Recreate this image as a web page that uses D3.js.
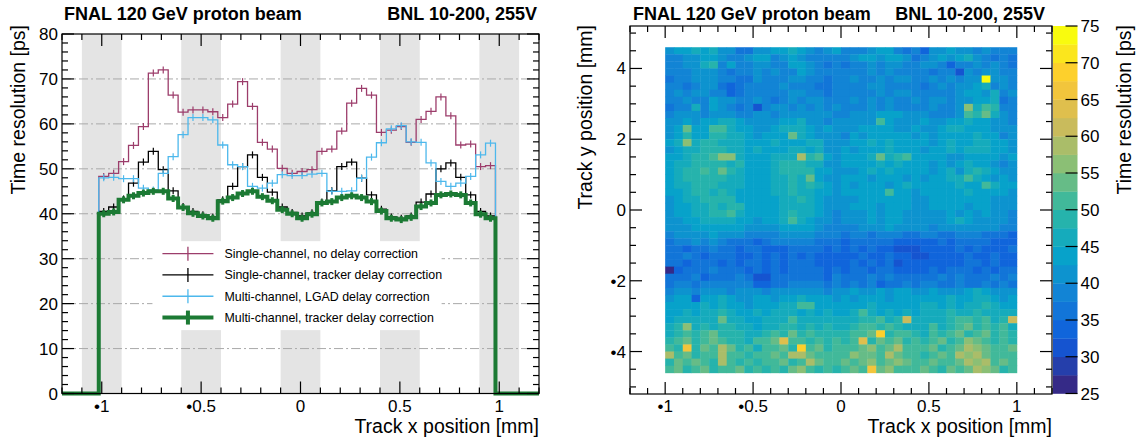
<!DOCTYPE html>
<html>
<head>
<meta charset="utf-8">
<script src="https://cdn.jsdelivr.net/npm/d3@7"></script>
<style>
body { margin: 0; background: #fff; }
svg { display: block; font-family: "Liberation Sans", Arial, sans-serif; }
</style>
</head>
<body>
<svg id="chart" width="1139" height="441"></svg>
<script>
// ---- left panel: time resolution vs track x (40 bins) ----
var binStart = -1.015;
var binWidth = 0.0499;

var noDelay = [48.3, 49.0, 51.6, 55.2, 59.4, 71.3, 72.0, 66.4, 62.6, 63.1,
               63.1, 62.7, 61.4, 64.4, 69.4, 63.9, 55.9, 54.4, 50.1, 49.0,
               49.4, 49.8, 53.9, 54.4, 58.4, 64.6, 67.9, 66.4, 58.1, 58.6,
               59.4, 55.9, 61.0, 62.8, 66.0, 61.8, 55.3, 55.5, 50.5, 50.7];
var trackerDelay = [40.5, 41.5, 43.3, 46.8, 51.5, 53.9, 49.8, 45.1, 41.6, 40.5,
                    39.8, 39.3, 43.1, 46.1, 50.5, 53.1, 48.1, 44.8, 41.5, 40.3,
                    39.5, 40.2, 42.6, 45.1, 50.5, 51.5, 47.9, 44.2, 41.0, 39.3,
                    39.0, 39.5, 42.6, 44.4, 50.0, 51.3, 48.1, 44.2, 40.5, 39.5];
var lgadDelay = [48.0, 48.1, 47.8, 47.8, 45.7, 45.3, 49.0, 52.7, 57.6, 61.4,
                 61.4, 60.9, 55.3, 50.9, 50.5, 46.1, 45.7, 46.8, 48.7, 48.5,
                 48.5, 48.8, 49.0, 45.0, 45.0, 45.1, 47.9, 52.6, 55.8, 58.9,
                 59.6, 56.0, 55.9, 51.3, 47.2, 46.1, 46.8, 48.3, 53.1, 55.7];
var multiTracker = [40.0, 40.4, 43.1, 44.0, 44.6, 45.0, 45.0, 43.4, 41.4, 40.1,
                    39.5, 39.0, 42.8, 43.6, 44.5, 45.0, 43.8, 42.9, 40.9, 40.0,
                    39.0, 39.9, 42.4, 42.7, 43.6, 44.0, 43.6, 42.7, 40.6, 39.0,
                    38.7, 39.2, 41.6, 42.4, 44.2, 44.4, 44.2, 42.4, 39.9, 39.0];

var seriesNames = ["Single-channel, no delay correction",
                   "Single-channel, tracker delay correction",
                   "Multi-channel, LGAD delay correction",
                   "Multi-channel, tracker delay correction"];
var seriesColors = ["#9c3d6b", "#000000", "#4db8ec", "#1c7a34"];
var seriesWidths = [1.3, 1.3, 1.3, 4];

var bandCenters = [-1, -0.5, 0, 0.5, 1];
var gridValues = [10, 20, 30, 40, 50, 60, 70];
var xTicksMajor = [-1, -0.5, 0, 0.5, 1];
var yTicksLeft = [0, 10, 20, 30, 40, 50, 60, 70, 80];
var yTicksRight = [-4, -2, 0, 2, 4];
var zTicks = [25, 30, 35, 40, 45, 50, 55, 60, 65, 70, 75];

// ---- right panel: 2D map, 40 columns (x -1..1) x 46 rows (y 4.6..-4.6) ----
// each char is a colour level: value = 25 + 2.5*level + 1.25 (0-9, A-J)
var heatRows = [
  "6778786644667787656755567754536676656555",
  "5566776556775676555556776776456767865454",
  "5566895755665577654545565665566535565654",
  "5556665455656557655555565655554552656655",
  "455666554465556655455655656655656566J665",
  "5545664345555655544555566555545656678565",
  "5656655345555566554555556566555556776856",
  "5565576655654565665556565655656656677845",
  "4558576545256656565655565655556556C8A955",
  "5666566655665666666556667776665556A9B865",
  "667677887666677866566666A766676677877665",
  "67B77AA877667888767666777766766788777666",
  "67977998876777B8766657677777676777787756",
  "78C8998887778777886667787877776787788776",
  "6788999887877788786676777877767787888776",
  "77899ACC8777888D9A767778B89A777766777767",
  "7889999897778999886677778787776767877656",
  "7899A9B987778999977666787877776786898766",
  "7899999887778898B76677767776767788A87676",
  "788999888777889898767677767877777877A877",
  "7789989877778898877677777A77677777877776",
  "6788999977777889876666777777667777777666",
  "6778898997777888876667776777667777677666",
  "6778899A87777898876566676776666676767665",
  "66778888776778A8766566676776666678766665",
  "6667777776666777765555666766665666666655",
  "5666676665555666655545545554455445554443",
  "4556565444345555544434444433333434444333",
  "4434454434433344443434343322233334343334",
  "4454344433434343433333433433223333433433",
  "4434443434434344433334343423333333443433",
  "0344454443434344443434434433334344434344",
  "4445344454224444443544454544444545444545",
  "4554555555334455554545453445455445445454",
  "5665666566656666665667667677667666787666",
  "6773778766776778777676777677777787788767",
  "777787877677788AA77777787777788787889877",
  "7787889877878887878778A87878788898898888",
  "788888B8877888A888888899A89E88889AA9A89E",
  "89C8989988788998989889AA9A9888A89AB9A9A8",
  "89A9AB999889A9B9A9999AABH9AA98A9AB9AB9A9",
  "9AB9ABA998AABFAA9A9A9AF9BAB9A9AB9ACBA9A9",
  "A9G9BADB9A8AAB9HAB9AAABCABDAAAB9ABDCBAAB",
  "DAB9AADAA9AABADDBAAAACBBADBAA9ABADCDBAAA",
  "9BABA9DA9A9AAB9ADBAABABCABCBAABAABDCDABA",
  "AB9AB9AAB9A9A9BCA9A9ABAGBCAAABA9BABDCB9A"
];
var heatXStart = -1, heatColW = 0.05, heatYTop = 4.6, heatRowH = 0.2;

// ROOT kBird palette stops
var birdStops = [0, 0.125, 0.25, 0.375, 0.5, 0.625, 0.75, 0.875, 1];
var birdR = [0.2082, 0.0592, 0.0780, 0.0232, 0.1802, 0.5301, 0.8186, 0.9956, 0.9764];
var birdG = [0.1664, 0.3599, 0.5041, 0.6419, 0.7178, 0.7492, 0.7328, 0.7862, 0.9832];
var birdB = [0.5293, 0.8684, 0.8385, 0.7914, 0.6425, 0.4662, 0.3499, 0.1968, 0.0539];

var zMin = 25, zMax = 75, nLevels = 20;

var svg = d3.select("#chart");
var fmt = function(v){ return (v < 0 ? "\u2022" : "") + Math.abs(v); };

var birdScale = d3.scaleLinear().domain(birdStops)
    .range(birdStops.map(function(s, i){ return d3.rgb(birdR[i]*255, birdG[i]*255, birdB[i]*255); }))
    .interpolate(d3.interpolateRgb);
function levelColor(l){ return birdScale(l / (nLevels - 1)); }
function valueLevel(v){ return Math.max(0, Math.min(nLevels - 1, Math.floor((v - zMin) / ((zMax - zMin) / nLevels)))); }

// ======================= LEFT PANEL =======================
var xL = d3.scaleLinear().domain([-1.2, 1.2]).range([62, 539]);
var yL = d3.scaleLinear().domain([0, 80]).range([393.5, 34]);
var gL = svg.append("g");

gL.selectAll("rect.band").data(bandCenters).enter().append("rect")
    .attr("x", function(d){ return xL(d - 0.1); })
    .attr("width", function(d){ return xL(d + 0.1) - xL(d - 0.1); })
    .attr("y", yL(80)).attr("height", yL(0) - yL(80))
    .attr("fill", "#e4e4e4");

gL.selectAll("line.grid").data(gridValues).enter().append("line")
    .attr("x1", xL(-1.2)).attr("x2", xL(1.2))
    .attr("y1", function(d){ return yL(d); }).attr("y2", function(d){ return yL(d); })
    .attr("stroke", "#a9a9a9").attr("stroke-width", 1)
    .attr("stroke-dasharray", "9,3,2,3");

// legend background hides bands and grid under it
var legBox = {x0: -0.745, x1: 0.71, y0: 14.1, y1: 33.9};
gL.append("rect")
    .attr("x", xL(legBox.x0)).attr("y", yL(legBox.y1))
    .attr("width", xL(legBox.x1) - xL(legBox.x0))
    .attr("height", yL(legBox.y0) - yL(legBox.y1))
    .attr("fill", "#fff");

function histPath(vals){
    var pts = [[xL(-1.2), yL(0)], [xL(binStart), yL(0)]];
    vals.forEach(function(v, i){
        pts.push([xL(binStart + i*binWidth), yL(v)]);
        pts.push([xL(binStart + (i+1)*binWidth), yL(v)]);
    });
    pts.push([xL(binStart + vals.length*binWidth), yL(0)]);
    pts.push([xL(1.2), yL(0)]);
    return d3.line()(pts);
}

var allSeries = [noDelay, trackerDelay, lgadDelay, multiTracker];
allSeries.forEach(function(vals, s){
    gL.append("path").attr("d", histPath(vals))
        .attr("fill", "none").attr("stroke", seriesColors[s])
        .attr("stroke-width", seriesWidths[s]).attr("stroke-linejoin", "miter");
    gL.selectAll("line.err" + s).data(vals).enter().append("line")
        .attr("x1", function(d, i){ return xL(binStart + (i+0.5)*binWidth); })
        .attr("x2", function(d, i){ return xL(binStart + (i+0.5)*binWidth); })
        .attr("y1", function(d){ return yL(d) - 3.5; })
        .attr("y2", function(d){ return yL(d) + 3.5; })
        .attr("stroke", seriesColors[s]).attr("stroke-width", s == 3 ? 3 : 1.2);
});

// legend entries
var legX = xL(legBox.x0), legY = yL(legBox.y1);
seriesNames.forEach(function(name, s){
    var cy = legY + 12.5 + s*21.3;
    gL.append("line").attr("x1", legX + 10).attr("x2", legX + 61)
        .attr("y1", cy).attr("y2", cy)
        .attr("stroke", seriesColors[s]).attr("stroke-width", seriesWidths[s]);
    gL.append("line").attr("x1", legX + 35.5).attr("x2", legX + 35.5)
        .attr("y1", cy - 7).attr("y2", cy + 7)
        .attr("stroke", seriesColors[s]).attr("stroke-width", s == 3 ? 4 : 1.3);
    gL.append("text").attr("x", legX + 72).attr("y", cy + 4.3)
        .attr("font-size", 12.4).attr("fill", "#000").text(name);
});

// frame + ticks
function frameTicks(g, xs, ys, xMinor, yMinor, yMajorList){
    var x0 = xs.range()[0], x1 = xs.range()[1], y0 = ys.range()[0], y1 = ys.range()[1];
    g.append("rect").attr("x", x0).attr("y", y1).attr("width", x1 - x0).attr("height", y0 - y1)
        .attr("fill", "none").attr("stroke", "#000").attr("stroke-width", 1.2);
    xMinor.forEach(function(t){
        var major = xTicksMajor.some(function(m){ return Math.abs(m - t) < 1e-6; });
        var len = major ? 12 : 6;
        g.append("line").attr("x1", xs(t)).attr("x2", xs(t)).attr("y1", y0).attr("y2", y0 - len)
            .attr("stroke", "#000").attr("stroke-width", 1.2);
        g.append("line").attr("x1", xs(t)).attr("x2", xs(t)).attr("y1", y1).attr("y2", y1 + len)
            .attr("stroke", "#000").attr("stroke-width", 1.2);
    });
    yMinor.forEach(function(t){
        var major = yMajorList.some(function(m){ return Math.abs(m - t) < 1e-6; });
        var len = major ? 12 : 6;
        g.append("line").attr("x1", x0).attr("x2", x0 + len).attr("y1", ys(t)).attr("y2", ys(t))
            .attr("stroke", "#000").attr("stroke-width", 1.2);
        g.append("line").attr("x1", x1).attr("x2", x1 - len).attr("y1", ys(t)).attr("y2", ys(t))
            .attr("stroke", "#000").attr("stroke-width", 1.2);
    });
    xTicksMajor.forEach(function(t){
        g.append("text").attr("x", xs(t)).attr("y", y0 + 18).attr("text-anchor", "middle")
            .attr("font-size", 17).text(fmt(t));
    });
    yMajorList.forEach(function(t){
        g.append("text").attr("x", x0 - 4).attr("y", ys(t) + 6).attr("text-anchor", "end")
            .attr("font-size", 17).text(fmt(t));
    });
}
frameTicks(gL, xL, yL, d3.range(-12, 13).map(function(i){ return i/10; }),
           d3.range(0, 41).map(function(i){ return i*2; }), yTicksLeft);

gL.append("text").attr("x", xL(-1.2) + 2).attr("y", 20).attr("font-size", 18)
    .attr("font-weight", "bold").text("FNAL 120 GeV proton beam");
gL.append("text").attr("x", xL(1.2) - 2).attr("y", 20).attr("font-size", 18)
    .attr("font-weight", "bold").attr("text-anchor", "end").text("BNL 10-200, 255V");
gL.append("text").attr("x", xL(1.2)).attr("y", 433).attr("font-size", 19.5)
    .attr("text-anchor", "end").text("Track x position [mm]");
gL.append("text").attr("transform", "translate(25," + 25 + ") rotate(-90)")
    .attr("font-size", 19.5).attr("text-anchor", "end").text("Time resolution [ps]");

// ======================= RIGHT PANEL =======================
var xR = d3.scaleLinear().domain([-1.2, 1.2]).range([630, 1052]);
var yR = d3.scaleLinear().domain([-5.2, 5.2]).range([394, 26]);
var zS = d3.scaleLinear().domain([zMin, zMax]).range([393.5, 26]);
var gR = svg.append("g");

var cells = [];
heatRows.forEach(function(row, r){
    row.split("").forEach(function(ch, c){
        var lvl = parseInt(ch, 36);
        cells.push({x: heatXStart + c*heatColW, y: heatYTop - r*heatRowH,
                    v: zMin + 2.5*lvl + 1.25});
    });
});
gR.selectAll("rect.cell").data(cells).enter().append("rect")
    .attr("x", function(d){ return xR(d.x); })
    .attr("y", function(d){ return yR(d.y); })
    .attr("width", function(d){ return xR(d.x + heatColW) - xR(d.x) + 0.4; })
    .attr("height", function(d){ return yR(d.y - heatRowH) - yR(d.y) + 0.4; })
    .attr("fill", function(d){ return levelColor(valueLevel(d.v)); });

frameTicks(gR, xR, yR, d3.range(-12, 13).map(function(i){ return i/10; }),
           d3.range(-10, 11).map(function(i){ return i/2; }), yTicksRight);

// colour bar
var cbX0 = 1053, cbX1 = 1077.5;
gR.selectAll("rect.cb").data(d3.range(nLevels)).enter().append("rect")
    .attr("x", cbX0).attr("width", cbX1 - cbX0)
    .attr("y", function(l){ return zS(zMin + (l+1)*2.5); })
    .attr("height", function(l){ return zS(zMin + l*2.5) - zS(zMin + (l+1)*2.5) + 0.3; })
    .attr("fill", function(l){ return levelColor(l); });
zTicks.forEach(function(t){
    gR.append("line").attr("x1", cbX1).attr("x2", cbX1 - 12).attr("y1", zS(t)).attr("y2", zS(t))
        .attr("stroke", "#000").attr("stroke-width", 1.2);
    gR.append("text").attr("x", cbX1 + 3).attr("y", zS(t) + 6).attr("font-size", 17).text(t);
});

gR.append("text").attr("x", xR(-1.2) + 3).attr("y", 20).attr("font-size", 18)
    .attr("font-weight", "bold").text("FNAL 120 GeV proton beam");
gR.append("text").attr("x", 1045).attr("y", 20).attr("font-size", 18)
    .attr("font-weight", "bold").attr("text-anchor", "end").text("BNL 10-200, 255V");
gR.append("text").attr("x", xR(1.2)).attr("y", 433).attr("font-size", 19.5)
    .attr("text-anchor", "end").text("Track x position [mm]");
gR.append("text").attr("transform", "translate(592,25) rotate(-90)")
    .attr("font-size", 19.5).attr("text-anchor", "end").text("Track y position [mm]");
gR.append("text").attr("transform", "translate(1131,25) rotate(-90)")
    .attr("font-size", 19.5).attr("text-anchor", "end").text("Time resolution [ps]");
</script>
</body>
</html>
